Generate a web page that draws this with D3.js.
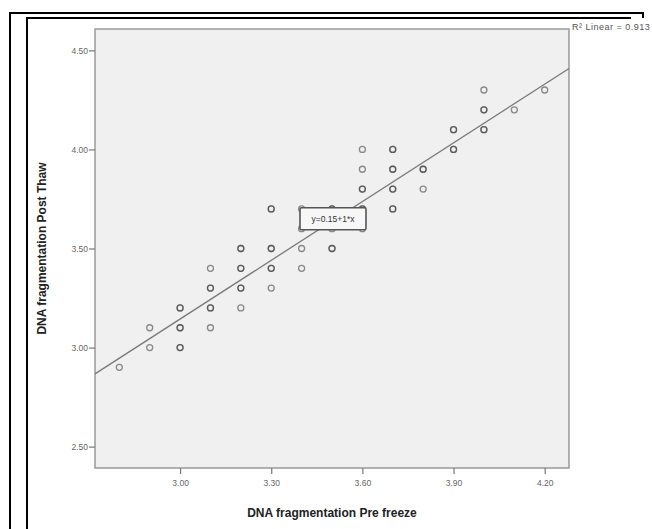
<!DOCTYPE html>
<html>
<head>
<meta charset="utf-8">
<script src="https://cdn.jsdelivr.net/npm/d3@7"></script>
<style>
  body { margin: 0; background: #fff; }
  svg { display: block; font-family: "Liberation Sans", Arial, sans-serif; }
</style>
</head>
<body>
<svg id="chart" width="652" height="529"></svg>
<script>
// pre freeze (x), post thaw (y); duplicates drawn twice so overlapping circles look darker
const preFreeze = [2.8, 2.9, 2.9, 3.0, 3.0, 3.0, 3.0, 3.0, 3.0,
  3.1, 3.1, 3.1, 3.1, 3.1, 3.1,
  3.2, 3.2, 3.2, 3.2, 3.2, 3.2, 3.2,
  3.3, 3.3, 3.3, 3.3, 3.3, 3.3, 3.3,
  3.4, 3.4, 3.4, 3.4, 3.5, 3.5, 3.5, 3.5, 3.5,
  3.6, 3.6, 3.6, 3.6, 3.6, 3.6, 3.6,
  3.7, 3.7, 3.7, 3.7, 3.7, 3.7, 3.7, 3.7,
  3.8, 3.8, 3.8, 3.9, 3.9, 3.9, 3.9,
  4.0, 4.0, 4.0, 4.0, 4.0, 4.1, 4.2];
const postThaw = [2.9, 3.1, 3.0, 3.2, 3.2, 3.1, 3.1, 3.0, 3.0,
  3.4, 3.3, 3.3, 3.2, 3.2, 3.1,
  3.5, 3.5, 3.4, 3.4, 3.3, 3.3, 3.2,
  3.7, 3.7, 3.5, 3.5, 3.4, 3.4, 3.3,
  3.7, 3.6, 3.5, 3.4, 3.7, 3.7, 3.6, 3.5, 3.5,
  4.0, 3.9, 3.8, 3.8, 3.7, 3.7, 3.6,
  4.0, 4.0, 3.9, 3.9, 3.8, 3.8, 3.7, 3.7,
  3.9, 3.9, 3.8, 4.1, 4.1, 4.0, 4.0,
  4.3, 4.2, 4.2, 4.1, 4.1, 4.2, 4.3];

const xTicks = [3.0, 3.3, 3.6, 3.9, 4.2];
const yTicks = [2.5, 3.0, 3.5, 4.0, 4.5];

// fit line as drawn in the picture
const fitIntercept = 0.18;
const fitSlope = 0.988;
const fitLabel = "y=0.15+1*x";
const r2Label = "R² Linear = 0.913";

const plot = { left: 95, right: 569, top: 29, bottom: 468 };

const svg = d3.select("#chart");

// document frame lines around the pasted chart
svg.append("path")
    .attr("d", "M10,529V13H643V18")
    .attr("fill", "none").attr("stroke", "#000").attr("stroke-width", 2);
svg.append("path")
    .attr("d", "M27,529V18H631")
    .attr("fill", "none").attr("stroke", "#000").attr("stroke-width", 2);

const x = d3.scaleLinear().domain([2.72, 4.28]).range([plot.left, plot.right]);
const y = d3.scaleLinear().domain([2.392, 4.608]).range([plot.bottom, plot.top]);

svg.append("rect")
    .attr("x", plot.left).attr("y", plot.top)
    .attr("width", plot.right - plot.left).attr("height", plot.bottom - plot.top)
    .attr("fill", "#f0f0f0").attr("stroke", "#9a9a9a").attr("stroke-width", 1.5);

// axes
const xAxis = svg.append("g")
    .attr("transform", `translate(0,${plot.bottom})`)
    .call(d3.axisBottom(x).tickValues(xTicks).tickFormat(d3.format(".2f")).tickSize(6));
const yAxis = svg.append("g")
    .attr("transform", `translate(${plot.left},0)`)
    .call(d3.axisLeft(y).tickValues(yTicks).tickFormat(d3.format(".2f")).tickSize(6));

[xAxis, yAxis].forEach(g => {
    g.select(".domain").remove();
    g.selectAll(".tick line").attr("stroke", "#777").attr("stroke-width", 1.2);
    g.selectAll(".tick text").attr("fill", "#666").attr("font-size", 8.5)
        .attr("font-family", "Liberation Sans, Arial, sans-serif");
});
xAxis.selectAll(".tick text").attr("dy", "1.1em");
yAxis.selectAll(".tick text").attr("x", -7);

// fit line, clipped to plot area
svg.append("clipPath").attr("id", "clip")
    .append("rect")
    .attr("x", plot.left).attr("y", plot.top)
    .attr("width", plot.right - plot.left).attr("height", plot.bottom - plot.top);

const xd = x.domain();
svg.append("line")
    .attr("clip-path", "url(#clip)")
    .attr("x1", x(xd[0])).attr("y1", y(fitIntercept + fitSlope * xd[0]))
    .attr("x2", x(xd[1])).attr("y2", y(fitIntercept + fitSlope * xd[1]))
    .attr("stroke", "#7a7a7a").attr("stroke-width", 1.3);

// points
const pts = preFreeze.map((v, i) => ({ x: v, y: postThaw[i] }));
svg.append("g").selectAll("circle")
    .data(pts)
    .enter()
    .append("circle")
    .attr("cx", d => x(d.x))
    .attr("cy", d => y(d.y))
    .attr("r", 3)
    .attr("fill", "none")
    .attr("stroke", "#333")
    .attr("stroke-opacity", 0.55)
    .attr("stroke-width", 1.3);

// equation label box
const boxX = x(3.5), boxY = y(3.65);
svg.append("rect")
    .attr("x", boxX - 32).attr("y", boxY - 11)
    .attr("width", 66).attr("height", 22)
    .attr("rx", 1.5)
    .attr("fill", "#f7f7f7").attr("stroke", "#555").attr("stroke-width", 1.6);
svg.append("text")
    .attr("x", boxX + 1).attr("y", boxY + 3)
    .attr("text-anchor", "middle")
    .attr("font-size", 8.5).attr("fill", "#333")
    .text(fitLabel);

// R2 label
svg.append("text")
    .attr("x", 572).attr("y", 30)
    .attr("font-size", 9).attr("letter-spacing", 0.5).attr("fill", "#555")
    .text(r2Label);

// axis titles
svg.append("text")
    .attr("x", (plot.left + plot.right) / 2).attr("y", 517)
    .attr("text-anchor", "middle")
    .attr("font-size", 12).attr("font-weight", "bold").attr("fill", "#222")
    .text("DNA fragmentation Pre freeze");
svg.append("text")
    .attr("transform", `translate(46,${(plot.top + plot.bottom) / 2}) rotate(-90)`)
    .attr("text-anchor", "middle")
    .attr("font-size", 12).attr("font-weight", "bold").attr("fill", "#222")
    .text("DNA fragmentation Post Thaw");
</script>
</body>
</html>
